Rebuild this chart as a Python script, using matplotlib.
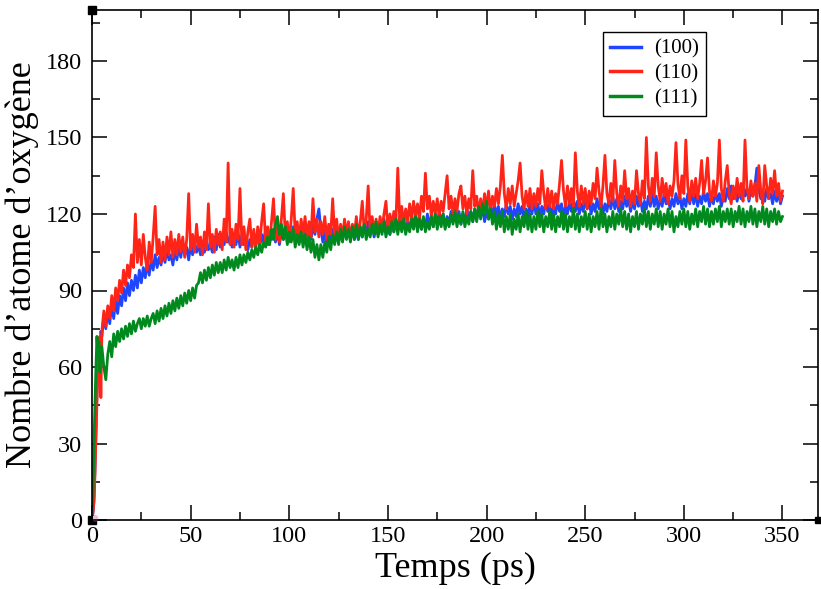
import numpy as np
import matplotlib
matplotlib.use("Agg")
import matplotlib.pyplot as plt
from matplotlib.ticker import MultipleLocator

# time axis: 0 -> 4.5 ps every 0.5 ps, then every 1 ps up to 350 ps
# values: number of oxygen atoms
early_100 = [0, 3, 8, 20, 35, 50, 62, 70, 66, 74]
late_100 = [
    72, 80, 75, 82, 77, 85, 79, 86, 81, 88,
    84, 91, 86, 93, 88, 94, 90, 96, 91, 98,
    93, 99, 95, 101, 96, 102, 98, 104, 99, 103,
    100, 105, 101, 106, 102, 104, 100, 106, 102, 107,
    103, 108, 104, 107, 102, 108, 104, 109, 105, 108,
    104, 109, 105, 110, 106, 108, 105, 111, 106, 112,
    107, 112, 108, 113, 109, 111, 107, 112, 108, 113,
    107, 112, 108, 111, 106, 110, 107, 112, 108, 113,
    107, 112, 109, 114, 108, 113, 110, 114, 109, 113,
    108, 113, 110, 115, 109, 113, 110, 115, 111, 114,
    109, 114, 110, 115, 111, 114, 110, 116, 112, 118,
    122, 114, 109, 113, 108, 112, 109, 114, 110, 113,
    109, 114, 110, 115, 111, 116, 112, 115, 110, 114,
    110, 115, 111, 116, 112, 117, 113, 116, 111, 115,
    112, 117, 113, 118, 114, 116, 112, 117, 113, 118,
    114, 119, 115, 118, 113, 117, 114, 119, 115, 120,
    115, 119, 114, 118, 115, 120, 116, 119, 115, 120,
    116, 121, 117, 120, 115, 119, 116, 121, 117, 122,
    117, 121, 116, 120, 117, 122, 118, 121, 117, 122,
    118, 123, 119, 122, 117, 121, 118, 123, 119, 124,
    119, 123, 118, 122, 119, 124, 120, 123, 118, 122,
    119, 124, 120, 123, 118, 122, 119, 124, 120, 125,
    120, 124, 119, 123, 120, 125, 121, 124, 119, 123,
    120, 125, 121, 124, 119, 123, 120, 125, 121, 126,
    121, 125, 120, 124, 121, 126, 122, 125, 120, 124,
    121, 126, 122, 125, 120, 124, 121, 126, 122, 127,
    122, 126, 121, 125, 122, 127, 123, 126, 121, 125,
    122, 127, 123, 126, 121, 125, 122, 127, 123, 128,
    123, 127, 122, 126, 123, 128, 124, 127, 122, 126,
    123, 128, 124, 127, 122, 126, 123, 128, 124, 129,
    124, 128, 123, 127, 124, 129, 125, 128, 123, 127,
    124, 129, 125, 128, 123, 127, 125, 130, 126, 131,
    126, 130, 125, 129, 126, 131, 127, 130, 125, 129,
    127, 131, 138, 130, 126, 129, 125, 130, 126, 128,
    124, 129, 125, 128, 124, 127,
]

early_110 = [0, 3, 7, 18, 32, 46, 58, 66, 72, 48]
late_110 = [
    74, 82, 76, 84, 79, 88, 82, 91, 86, 94,
    89, 98, 92, 100, 95, 104, 99, 120, 101, 110,
    100, 112, 103, 98, 109, 101, 111, 123, 104, 110,
    101, 109, 102, 111, 104, 113, 103, 110, 104, 112,
    105, 111, 103, 110, 128, 106, 112, 105, 116, 107,
    111, 104, 113, 106, 124, 107, 112, 105, 114, 108,
    113, 106, 118, 109, 140, 108, 114, 107, 116, 110,
    130, 108, 115, 106, 113, 118, 107, 114, 106, 115,
    108, 117, 124, 109, 115, 108, 117, 126, 110, 116,
    109, 118, 128, 111, 117, 109, 118, 130, 112, 117,
    110, 118, 112, 119, 110, 117, 111, 126, 113, 118,
    111, 117, 112, 119, 110, 116, 112, 126, 111, 118,
    110, 116, 111, 118, 112, 117, 110, 116, 112, 119,
    111, 117, 125, 113, 118, 131, 112, 119, 113, 118,
    112, 119, 114, 120, 125, 114, 120, 115, 121, 116,
    138, 117, 123, 116, 122, 117, 124, 118, 125, 119,
    124, 118, 127, 121, 136, 122, 127, 119, 125, 120,
    126, 119, 125, 121, 128, 135, 122, 127, 120, 126,
    121, 128, 131, 122, 127, 120, 126, 122, 137, 123,
    127, 120, 126, 121, 128, 122, 129, 121, 127, 123,
    130, 124, 131, 143, 128, 122, 130, 124, 131, 123,
    128, 133, 140, 127, 122, 129, 123, 130, 122, 128,
    123, 130, 124, 137, 128, 122, 130, 123, 129, 122,
    128, 124, 132, 141, 129, 123, 131, 124, 130, 123,
    144, 129, 123, 131, 124, 130, 122, 129, 124, 132,
    126, 138, 129, 123, 131, 143, 128, 124, 132, 125,
    141, 128, 123, 131, 125, 137, 126, 130, 123, 129,
    124, 137, 128, 124, 133, 126, 150, 131, 125, 134,
    127, 144, 131, 125, 134, 127, 132, 124, 131, 127,
    133, 148, 132, 126, 135, 128, 149, 131, 125, 133,
    127, 134, 126, 132, 141, 128, 133, 142, 129, 125,
    133, 127, 132, 149, 130, 125, 133, 139, 128, 124,
    131, 126, 134, 127, 132, 125, 149, 130, 126, 133,
    127, 132, 125, 139, 129, 124, 139, 131, 126, 134,
    128, 137, 127, 132, 125, 129,
]

early_111 = [0, 10, 30, 45, 60, 72, 65, 70, 58, 68]
late_111 = [
    68, 60, 55, 65, 70, 64, 73, 68, 74, 70,
    75, 71, 76, 72, 77, 73, 78, 74, 77, 79,
    75, 79, 76, 80, 76, 79, 81, 77, 82, 78,
    83, 79, 84, 80, 85, 81, 86, 82, 87, 83,
    88, 84, 89, 85, 90, 86, 91, 87, 92, 93,
    97, 93, 98, 94, 99, 95, 100, 96, 101, 97,
    101, 97, 102, 98, 103, 99, 102, 98, 103, 99,
    104, 100, 104, 101, 105, 102, 106, 103, 107, 104,
    108, 105, 109, 107, 111, 108, 114, 110, 116, 119,
    112, 116, 110, 115, 108, 113, 109, 114, 107, 112,
    108, 113, 107, 112, 106, 111, 105, 110, 103, 108,
    102, 108, 103, 109, 105, 111, 106, 112, 108, 113,
    108, 114, 109, 115, 110, 114, 109, 115, 110, 116,
    110, 115, 111, 116, 110, 114, 111, 116, 112, 117,
    111, 116, 112, 117, 111, 115, 112, 117, 113, 118,
    112, 117, 113, 118, 112, 116, 113, 118, 114, 119,
    113, 118, 114, 119, 113, 117, 114, 119, 115, 120,
    114, 119, 115, 120, 114, 118, 115, 120, 116, 121,
    115, 120, 116, 121, 115, 119, 116, 121, 117, 122,
    117, 123, 118, 124, 120, 125, 118, 122, 116, 121,
    114, 120, 115, 121, 113, 119, 114, 120, 112, 118,
    114, 120, 113, 119, 115, 121, 114, 120, 113, 119,
    114, 121, 115, 120, 113, 119, 115, 121, 114, 120,
    113, 119, 115, 121, 114, 120, 113, 119, 115, 122,
    114, 120, 113, 119, 115, 121, 114, 120, 113, 119,
    115, 121, 114, 122, 115, 120, 113, 119, 115, 121,
    114, 120, 116, 122, 115, 121, 114, 120, 113, 119,
    115, 121, 114, 120, 116, 122, 115, 121, 114, 120,
    116, 122, 115, 121, 114, 120, 116, 122, 115, 121,
    113, 119, 115, 121, 116, 122, 115, 121, 114, 120,
    116, 122, 115, 121, 117, 123, 116, 122, 115, 121,
    116, 122, 117, 123, 115, 121, 117, 122, 116, 122,
    115, 121, 117, 123, 116, 122, 115, 121, 117, 123,
    116, 122, 115, 121, 117, 123, 116, 122, 115, 121,
    117, 122, 116, 121, 117, 119,
]

labels = ["(100)", "(110)", "(111)"]
colors = ["#1f45ff", "#ff2418", "#008a1e"]
series = [early_100 + late_100, early_110 + late_110, early_111 + late_111]


def time_axis(n_late):
    return np.concatenate([np.arange(0, 5, 0.5), np.arange(5, 5 + n_late)])


plt.rcParams["font.family"] = ["Liberation Serif", "DejaVu Serif"]

fig = plt.figure(figsize=(8.21, 5.89), dpi=100)
ax = fig.add_axes([92 / 821, 69 / 589, 726 / 821, 510 / 589])

for vals, lab, col in zip(series, labels, colors):
    t = time_axis(len(vals) - 10)
    ax.plot(t, vals, color=col, lw=2.0, label=lab)

ax.set_xlim(0, 368)
ax.set_ylim(0, 200)
ax.xaxis.set_major_locator(MultipleLocator(50))
ax.xaxis.set_minor_locator(MultipleLocator(25))
ax.yaxis.set_major_locator(MultipleLocator(30))
ax.yaxis.set_minor_locator(MultipleLocator(15))
ax.tick_params(which="both", direction="in", top=True, right=True, width=1.1)
ax.tick_params(which="major", length=11)
ax.tick_params(which="minor", length=6)
ax.tick_params(axis="y", labelsize=17.5, pad=7)
ax.tick_params(axis="x", labelsize=17.5, pad=4)
for s in ax.spines.values():
    s.set_linewidth(1.2)

ax.set_xlabel("Temps (ps)", fontsize=26, labelpad=4)
ax.set_ylabel("Nombre d\u2019atome d\u2019oxyg\u00e8ne", fontsize=26, labelpad=5)

leg = ax.legend(loc="upper left", bbox_to_anchor=(0.704, 0.957), fontsize=15,
                frameon=True, fancybox=False, edgecolor="black", framealpha=1,
                handlelength=1.45, handletextpad=0.65, borderpad=0.35,
                labelspacing=0.25, borderaxespad=0)
leg.get_frame().set_linewidth(1.0)
for h in leg.get_lines():
    h.set_linewidth(2.5)

# small corner handles as in the original export
ax.plot([0], [1], transform=ax.transAxes, marker="s", ms=6, color="black", clip_on=False)
ax.plot([1], [0], transform=ax.transAxes, marker="s", ms=5, color="black", clip_on=False)
ax.plot([0], [0], transform=ax.transAxes, marker="s", ms=6, color="black", clip_on=False)
ax.plot([0.004], [0.004], transform=ax.transAxes, marker="s", ms=2.5, color="#f4b8e0",
        clip_on=False)

fig.savefig("out.png", dpi=100)
